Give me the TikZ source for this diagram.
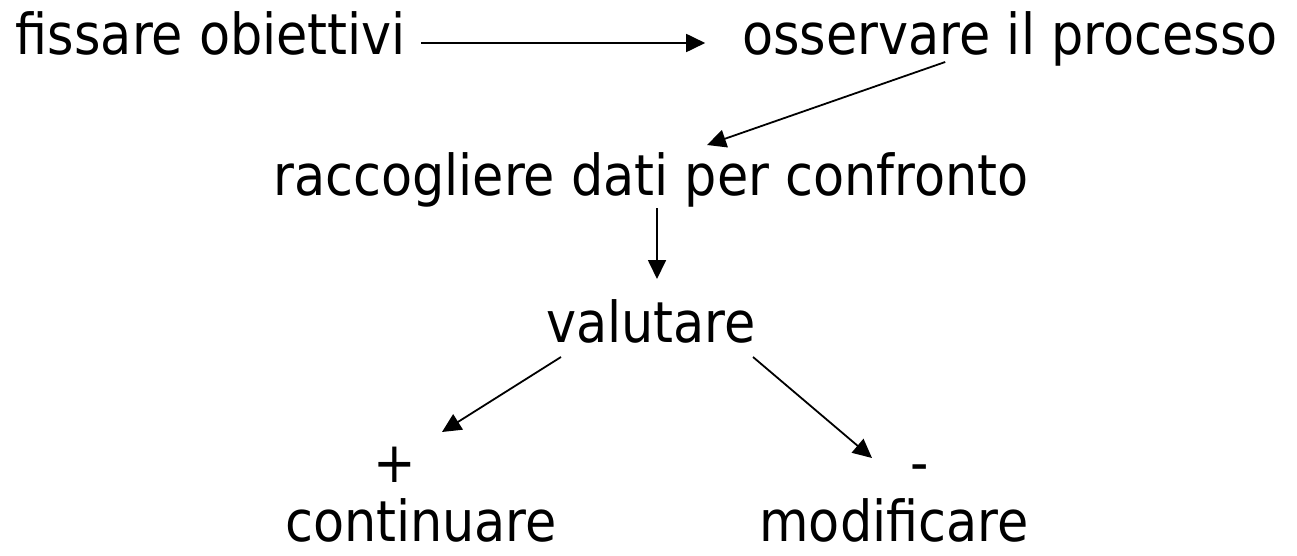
\documentclass[tikz,border=0pt]{standalone}
\usepackage{fontspec}
\setmainfont{DejaVu Sans Condensed}
\usetikzlibrary{arrows.meta,calc}
\begin{document}
\begin{tikzpicture}[x=1pt,y=-1pt,
  lbl/.style={anchor=base,inner sep=0pt,font=\fontsize{56.5}{68}\selectfont},
  conn/.style={line width=1.8pt,-{Triangle[length=19pt,width=18pt]}}]
\useasboundingbox (0,0) rectangle (1297,556);
\node[lbl] (fis) at (211,55) {fissare obiettivi};
\node[lbl] (oss) at (1010,55) {osservare il processo};
\node[lbl] (rac) at (651,196) {raccogliere dati per confronto};
\node[lbl] (val) at (651,342) {valutare};
\node[lbl] (plus) at (394.5,482) {+};
\node[lbl] (minus) at (920,482) {-};
\node[lbl] (con) at (421,541) {continuare};
\node[lbl] (mod) at (894,541) {modificare};
\draw[conn] ($(fis.base east)+(15,-12)$) -- ($(oss.base west)+(-37,-12)$);
\draw[conn] ($(oss.base west)+(203,7)$) -- ($(rac.base)+(56,-51)$);
\draw[conn] ($(rac.base)+(6,12)$) -- ($(val.base)+(6,-63)$);
\draw[conn] ($(val.base)+(-90,15)$) -- ($(plus.base)+(47.5,-50)$);
\draw[conn] ($(val.base)+(102,15)$) -- ($(minus.base)+(-48,-24)$);
\end{tikzpicture}
\end{document}
